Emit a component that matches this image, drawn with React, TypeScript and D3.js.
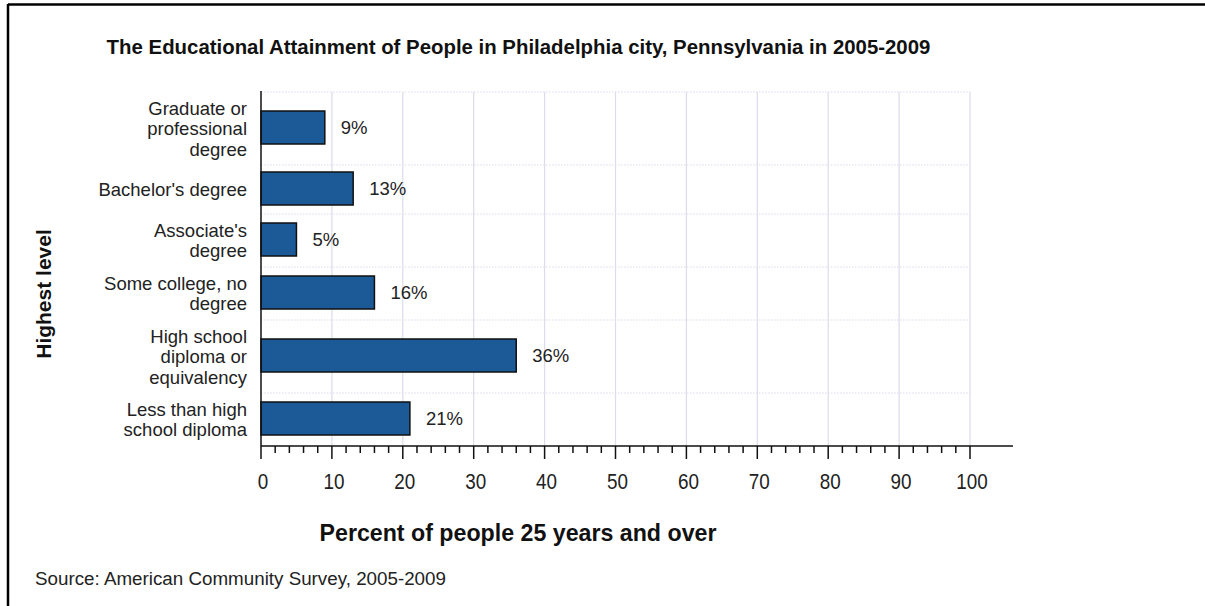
import React from "react";
import * as d3 from "d3";

const title = "The Educational Attainment of People in Philadelphia city, Pennsylvania in 2005-2009";
const categories: string[][] = [
  ["Graduate or", "professional", "degree"],
  ["Bachelor's degree"],
  ["Associate's", "degree"],
  ["Some college, no", "degree"],
  ["High school", "diploma or", "equivalency"],
  ["Less than high", "school diploma"],
];
const values = [9, 13, 5, 16, 36, 21];
const majorTicks = [0, 10, 20, 30, 40, 50, 60, 70, 80, 90, 100];
const yTitle = "Highest level";
const xTitle = "Percent of people 25 years and over";
const source = "Source: American Community Survey, 2005-2009";

const W = 1205;
const H = 606;
const plotLeft = 261;
const plotRight = 970;
const plotTop = 92;
const plotBottom = 446;
const axisEnd = 1013;
const FONT = "'Liberation Sans', Arial, sans-serif";

function bandWeight(lines: number) {
  return lines === 1 ? 49 : lines === 2 ? 53 : 73;
}

export default function App() {
  const x = d3.scaleLinear().domain([0, 100]).range([plotLeft, plotRight]);
  const weights = categories.map((c) => bandWeight(c.length));
  const cum = [0, ...d3.cumsum(weights)];
  const total = cum[cum.length - 1];
  const y = d3.scaleLinear().domain([0, total]).range([plotTop, plotBottom]);
  const bands = categories.map((c, i) => ({
    top: y(cum[i]),
    bottom: y(cum[i + 1]),
    center: (y(cum[i]) + y(cum[i + 1])) / 2,
  }));
  const minorTicks = d3.range(0, 101, 2).filter((v) => v % 10 !== 0);
  const barH = 33;
  const grid = "#dcdcec";

  return (
    <div style={{ position: "absolute", left: 0, top: 0 }}>
      <svg width={W} height={H} style={{ display: "block", background: "#fff" }}>
        <rect x={0} y={0} width={W} height={H} fill="#fff" />
        {/* frame */}
        <line x1={8} x2={W} y1={4.5} y2={4.5} stroke="#000" strokeWidth={2.5} />
        <line x1={8} x2={8} y1={4} y2={H} stroke="#000" strokeWidth={2.5} />

        {/* title */}
        <text x={518.5} y={54} textAnchor="middle" fontFamily={FONT} fontWeight="bold" fontSize={20.4} fill="#111">
          {title}
        </text>

        {/* grid */}
        {majorTicks.slice(1).map((t) => (
          <line key={"vg" + t} x1={x(t)} x2={x(t)} y1={plotTop} y2={plotBottom} stroke={grid} strokeWidth={1.2} />
        ))}
        {bands.map((b, i) => (
          <line
            key={"hg" + i}
            x1={plotLeft}
            x2={plotRight}
            y1={b.top}
            y2={b.top}
            stroke={grid}
            strokeWidth={1.2}
            strokeDasharray="1.5,1.5"
          />
        ))}

        {/* bars */}
        {values.map((v, i) => (
          <rect
            key={"bar" + i}
            x={x(0)}
            y={bands[i].center - barH / 2 - 1}
            width={x(v) - x(0)}
            height={barH}
            fill="#1b5a96"
            stroke="#111"
            strokeWidth={1.5}
          />
        ))}
        {values.map((v, i) => (
          <text
            key={"vl" + i}
            x={x(v) + 16}
            y={bands[i].center - 1}
            dy="0.35em"
            fontFamily={FONT}
            fontSize={18.5}
            fill="#222"
          >
            {v + "%"}
          </text>
        ))}

        {/* category labels */}
        {categories.map((lines, i) => (
          <text key={"cl" + i} textAnchor="end" fontFamily={FONT} fontSize={18.5} fill="#222">
            {lines.map((ln, j) => (
              <tspan key={j} x={247} y={bands[i].center - ((lines.length - 1) * 20.5) / 2 + j * 20.5 + 6.5}>
                {ln}
              </tspan>
            ))}
          </text>
        ))}

        {/* axes */}
        <line x1={plotLeft} x2={plotLeft} y1={plotTop - 1} y2={plotBottom} stroke="#111" strokeWidth={1.5} />
        <line x1={plotLeft} x2={axisEnd} y1={plotBottom} y2={plotBottom} stroke="#111" strokeWidth={1.5} />
        {majorTicks.map((t) => (
          <line key={"mt" + t} x1={x(t)} x2={x(t)} y1={plotBottom} y2={plotBottom + 13} stroke="#111" strokeWidth={1.5} />
        ))}
        {minorTicks.map((t) => (
          <line key={"nt" + t} x1={x(t)} x2={x(t)} y1={plotBottom} y2={plotBottom + 7} stroke="#111" strokeWidth={1.5} />
        ))}
        {majorTicks.map((t) => (
          <text
            key={"tl" + t}
            transform={`translate(${x(t) + 2}, 489) scale(0.92, 1.1)`}
            textAnchor="middle"
            fontFamily={FONT}
            fontSize={20.5}
            fill="#222"
          >
            {t}
          </text>
        ))}

        {/* axis titles */}
        <text x={518} y={541} textAnchor="middle" fontFamily={FONT} fontWeight="bold" fontSize={23.2} fill="#111">
          {xTitle}
        </text>
        <text
          transform={`translate(51, 294) rotate(-90)`}
          textAnchor="middle"
          fontFamily={FONT}
          fontWeight="bold"
          fontSize={21}
          fill="#111"
        >
          {yTitle}
        </text>

        {/* source */}
        <text x={35} y={585} fontFamily={FONT} fontSize={18.8} fill="#222">
          {source}
        </text>
      </svg>
    </div>
  );
}
